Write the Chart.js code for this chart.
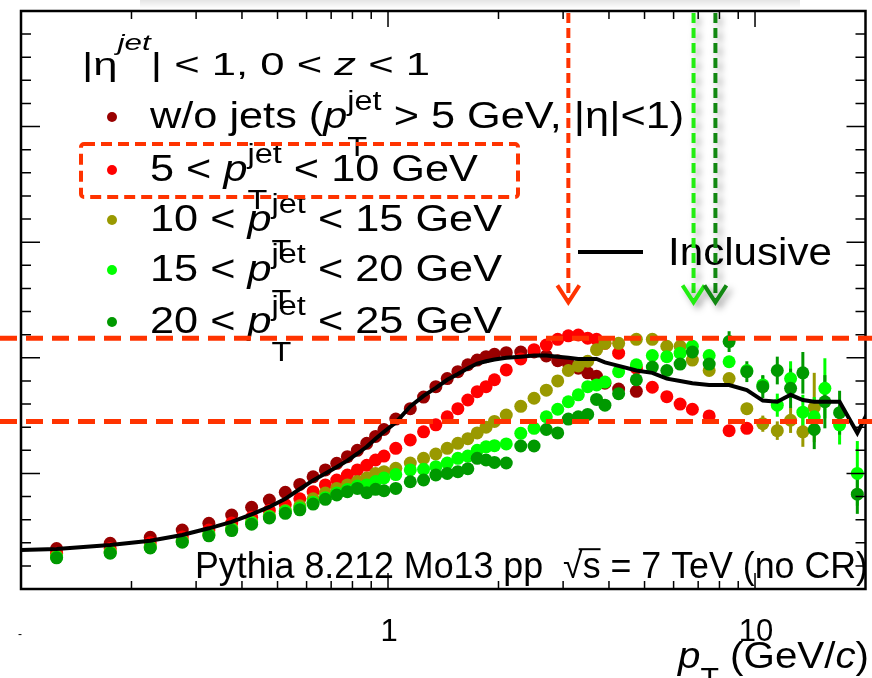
<!DOCTYPE html>
<html>
<head>
<meta charset="utf-8">
<script src="https://cdn.jsdelivr.net/npm/chart.js@4.4.0/dist/chart.umd.min.js"></script>
<style>
  html, body { margin: 0; padding: 0; background: #fff; }
  #wrap { width: 872px; height: 678px; }
</style>
</head>
<body>
<div id="wrap"><canvas id="c" width="872" height="678"></canvas></div>
<script>
// pT bin centres (GeV/c)
const ptBins = [
  0.125, 0.175, 0.225, 0.275, 0.325, 0.375, 0.425, 0.475, 0.525, 0.575,
  0.625, 0.675, 0.725, 0.775, 0.825, 0.875, 0.925, 0.975,
  1.05, 1.15, 1.25, 1.35, 1.45, 1.55, 1.65, 1.75, 1.85, 1.95,
  2.1, 2.3, 2.5, 2.7, 2.9, 3.1, 3.3, 3.5, 3.7, 3.9,
  4.25, 4.75, 5.25, 5.75, 6.25, 6.75,
  7.5, 8.5, 9.5,
  10.5, 11.5, 12.5, 13.5, 14.5, 15.5,
  17, 19
];

// w/o jets (pT jet > 5 GeV, |eta|<1)
const noJet = [
  0.35, 0.395, 0.447, 0.51, 0.568, 0.64, 0.707, 0.77, 0.836, 0.905,
  0.97, 1.03, 1.087, 1.145, 1.20, 1.26, 1.32, 1.38,
  1.47, 1.56, 1.66, 1.75, 1.82, 1.88, 1.94, 1.98, 2.01, 2.03,
  2.044, 2.05, 2.05, 2.016, 1.975, 1.95, 1.91, 1.87, 1.84, 1.78,
  1.73, 1.71
];

// 5 < pT jet < 10 GeV
const jet5to10 = [
  0.31, 0.35, 0.40, 0.45, 0.51, 0.57, 0.62, 0.68, 0.73, 0.78,
  0.842, 0.90, 0.943, 0.986, 1.03, 1.07, 1.116, 1.15,
  1.217, 1.29, 1.36, 1.42, 1.49, 1.56, 1.635, 1.707, 1.75, 1.81,
  1.895, 1.99, 2.07, 2.11, 2.16, 2.19, 2.197, 2.17, 2.16, 2.125,
  2.04, 1.91, 1.745, 1.664, 1.60, 1.555,
  1.497, 1.37, 1.39
];

// 10 < pT jet < 15 GeV
const jet10to15 = [
  0.285, 0.325, 0.37, 0.42, 0.475, 0.525, 0.58, 0.63, 0.68, 0.72,
  0.78, 0.83, 0.87, 0.90, 0.93, 0.96, 1.0, 1.015,
  1.044, 1.09, 1.13, 1.168, 1.217, 1.26, 1.30, 1.35, 1.40, 1.45,
  1.505, 1.58, 1.65, 1.72, 1.80, 1.89, 1.93, 1.97, 2.07, 2.125,
  2.125, 2.16, 2.16, 2.10, 2.10, 1.98,
  1.89, 1.82, 1.56,
  1.43, 1.37, 1.46, 1.36, 1.57
];

// 15 < pT jet < 20 GeV
const jet15to20 = [
  0.275, 0.315, 0.36, 0.41, 0.47, 0.515, 0.57, 0.625, 0.67, 0.70,
  0.75, 0.79, 0.83, 0.86, 0.89, 0.90, 0.93, 0.96,
  0.99, 1.03, 1.035, 1.058, 1.09, 1.13, 1.15, 1.20, 1.23, 1.24,
  1.255, 1.347, 1.39, 1.49, 1.555, 1.62, 1.68, 1.75, 1.765, 1.79,
  1.88, 1.94, 2.02, 2.01, 2.04, 2.10,
  2.02, 1.966, 1.89,
  1.765, 1.59, 1.82, 1.53, 1.49, 1.736,
  1.42, 1.0
];

// 20 < pT jet < 25 GeV
const jet20to25 = [
  0.27, 0.31, 0.355, 0.405, 0.46, 0.505, 0.56, 0.615, 0.655, 0.685,
  0.735, 0.776, 0.813, 0.842, 0.87, 0.833, 0.862, 0.85,
  0.87, 0.928, 0.943, 0.986, 1.0, 1.015, 1.04, 1.13, 1.116, 1.095,
  1.09, 1.237, 1.237, 1.38, 1.35, 1.47, 1.49, 1.51, 1.64, 1.59,
  1.69, 1.81, 1.92, 1.89, 1.946, 2.05,
  1.946, 2.14, 1.88,
  1.75, 1.89, 1.736, 1.87, 1.38, 1.62,
  1.525, 0.82
];

// vertical error bars (same index as the values)
const errJet5to10 = { 45: 0.03, 46: 0.04 };
const errJet10to15 = { 46: 0.05, 47: 0.07, 48: 0.08, 49: 0.11, 50: 0.13, 51: 0.3 };
const errJet15to20 = { 44: 0.03, 45: 0.05, 46: 0.05, 47: 0.08, 48: 0.1, 49: 0.15, 50: 0.15, 51: 0.17, 52: 0.26, 53: 0.17, 54: 0.28 };
const errJet20to25 = { 44: 0.05, 45: 0.09, 46: 0.09, 47: 0.1, 48: 0.12, 49: 0.17, 50: 0.18, 51: 0.17, 52: 0.23, 53: 0.19, 54: 0.17 };

// inclusive curve
const inclPt = [0.1].concat(ptBins, [21]);
const inclVal = [
  0.337,
  0.345, 0.38, 0.418, 0.467, 0.525, 0.58, 0.645, 0.71, 0.78, 0.865,
  0.94, 1.0, 1.055, 1.11, 1.17, 1.23, 1.30, 1.36,
  1.44, 1.58, 1.67, 1.74, 1.81, 1.86, 1.91, 1.95, 1.97, 1.985,
  2.0, 2.01, 2.02, 2.02, 2.01, 2.0, 1.99, 1.99, 1.99, 1.96,
  1.93, 1.89, 1.87, 1.82, 1.80, 1.78,
  1.765, 1.765, 1.72,
  1.63, 1.62, 1.68, 1.635, 1.62, 1.62,
  1.62, 1.35,
  1.62
];

// annotations drawn on top
const refLevels = [2.17, 1.45];
const arrowPt = [3.1, 6.8, 7.8];
const arrowTip = 2.48;

const xTickLabels = [['1', 1], ['10', 10]];

const FONT = '"Liberation Sans", Arial, Helvetica, sans-serif';
const RED_DASH = '#ff3300';
const colors = {
  noJet: '#990000',
  jet5to10: '#ff0000',
  jet10to15: '#999900',
  jet15to20: '#00ff00',
  jet20to25: '#009900'
};

const legendRows = [
  { color: colors.noJet, segs: [{ t: 'w/o jets (' }, { t: 'p', italic: true }, { sub: 'T', sup: 'jet' }, { t: ' > 5 GeV, |η|<1)' }] },
  { color: colors.jet5to10, segs: [{ t: '5 < ' }, { t: 'p', italic: true }, { sub: 'T', sup: 'jet' }, { t: ' < 10 GeV' }] },
  { color: colors.jet10to15, segs: [{ t: '10 < ' }, { t: 'p', italic: true }, { sub: 'T', sup: 'jet' }, { t: ' < 15 GeV' }] },
  { color: colors.jet15to20, segs: [{ t: '15 < ' }, { t: 'p', italic: true }, { sub: 'T', sup: 'jet' }, { t: ' < 20 GeV' }] },
  { color: colors.jet20to25, segs: [{ t: '20 < ' }, { t: 'p', italic: true }, { sub: 'T', sup: 'jet' }, { t: ' < 25 GeV' }] }
];
const legendRowY = [117, 170, 220, 270, 322];

function pts(vals) {
  return vals.map((v, i) => ({ x: ptBins[i], y: v })).filter(p => p.y !== null);
}

function setFont(ctx, size, italic) {
  ctx.font = (italic ? 'italic ' : '') + size + 'px ' + FONT;
}

// measure a run of text pieces with sub/superscripts
function layoutRich(ctx, segs, size) {
  let w = 0;
  const parts = segs.map(s => {
    if (s.sub !== undefined || s.sup !== undefined) {
      const ss = size * (s.scale || 0.75);
      setFont(ctx, ss, s.italic);
      const w1 = s.sub ? ctx.measureText(s.sub).width : 0;
      const w2 = s.sup ? ctx.measureText(s.sup).width : 0;
      const p = { s, x: w, w: Math.max(w1, w2), ss };
      w += p.w;
      return p;
    }
    setFont(ctx, size, s.italic);
    const p = { s, x: w, w: ctx.measureText(s.t).width };
    w += p.w;
    return p;
  });
  return { parts, w };
}

function drawRich(ctx, segs, x0, base, size, sx, color) {
  const { parts } = layoutRich(ctx, segs, size);
  ctx.save();
  ctx.translate(x0, base);
  ctx.scale(sx, 1);
  ctx.fillStyle = color || '#000';
  ctx.strokeStyle = color || '#000';
  ctx.textAlign = 'left';
  ctx.textBaseline = 'alphabetic';
  parts.forEach(p => {
    const s = p.s;
    if (p.ss) {
      setFont(ctx, p.ss, s.italic);
      if (s.sup) ctx.fillText(s.sup, p.x, -size * (s.up || 0.5));
      if (s.sub) ctx.fillText(s.sub, p.x, size * (s.down || 0.75));
    } else {
      setFont(ctx, size, s.italic);
      ctx.fillText(s.t, p.x, 0);
      if (s.over) {
        ctx.lineWidth = 2;
        ctx.beginPath();
        ctx.moveTo(p.x - 4, -size * 0.8);
        ctx.lineTo(p.x + p.w, -size * 0.8);
        ctx.stroke();
      }
    }
  });
  ctx.restore();
}

function fitScale(ctx, segs, size, x0, x1) {
  return (x1 - x0) / layoutRich(ctx, segs, size).w;
}

const errorBars = {
  id: 'errorBars',
  beforeDatasetsDraw(chart) {
    const { ctx, scales: { x, y } } = chart;
    const sets = [
      [jet5to10, errJet5to10, colors.jet5to10],
      [jet10to15, errJet10to15, colors.jet10to15],
      [jet15to20, errJet15to20, colors.jet15to20],
      [jet20to25, errJet20to25, colors.jet20to25]
    ];
    ctx.save();
    ctx.lineWidth = 3;
    sets.forEach(([vals, errs, col]) => {
      ctx.strokeStyle = col;
      Object.keys(errs).forEach(k => {
        const i = +k;
        const px = x.getPixelForValue(ptBins[i]);
        ctx.beginPath();
        ctx.moveTo(px, y.getPixelForValue(vals[i] - errs[k]));
        ctx.lineTo(px, y.getPixelForValue(vals[i] + errs[k]));
        ctx.stroke();
      });
    });
    ctx.restore();
  }
};

const decorations = {
  id: 'decorations',
  afterDraw(chart) {
    const { ctx, chartArea: a, scales: { x, y } } = chart;
    ctx.save();

    // faint shadow band at the top
    const g = ctx.createLinearGradient(0, 0, 0, 9);
    g.addColorStop(0, 'rgba(0,0,0,0.10)');
    g.addColorStop(1, 'rgba(0,0,0,0)');
    ctx.fillStyle = g;
    ctx.fillRect(140, 0, 660, 9);

    // frame + ticks (ROOT style, ticks inward on all sides)
    ctx.strokeStyle = '#000';
    ctx.lineWidth = 1.5;
    for (let d = 0.1; d < 20; d *= 10) {
      for (let m = 1; m <= 9; m++) {
        const v = d * m;
        if (v <= 0.1 || v >= 20) continue;
        const px = x.getPixelForValue(v);
        const len = m === 1 ? 16 : 8;
        ctx.beginPath();
        ctx.moveTo(px, a.bottom); ctx.lineTo(px, a.bottom - len);
        ctx.moveTo(px, a.top); ctx.lineTo(px, a.top + len);
        ctx.stroke();
      }
    }
    for (let k = 1; k < 25; k++) {
      const py = y.getPixelForValue(k * 0.2);
      const len = k % 5 === 0 ? 19 : 10;
      ctx.beginPath();
      ctx.moveTo(a.left, py); ctx.lineTo(a.left + len, py);
      ctx.moveTo(a.right, py); ctx.lineTo(a.right - len, py);
      ctx.stroke();
    }
    ctx.lineWidth = 2.5;
    ctx.strokeRect(a.left, a.top, a.right - a.left, a.bottom - a.top);

    // tick labels
    ctx.fillStyle = '#000';
    setFont(ctx, 31, false);
    ctx.textAlign = 'center';
    ctx.textBaseline = 'alphabetic';
    xTickLabels.forEach(([t, v]) => ctx.fillText(t, x.getPixelForValue(v) + 1, 641));
    setFont(ctx, 12, false);
    ctx.fillText('-', 20, 638);

    // axis title
    const titleSegs = [{ t: 'p', italic: true }, { sub: 'T', down: 0.5 }, { t: ' (GeV/' }, { t: 'c', italic: true }, { t: ')' }];
    drawRich(ctx, titleSegs, 678, 668, 37, fitScale(ctx, titleSegs, 37, 678, 869));

    // generator label
    const genSegs = [{ t: 'Pythia 8.212 Mo13 pp  √' }, { t: 's', over: true }, { t: ' = 7 TeV (no CR)' }];
    drawRich(ctx, genSegs, 195, 578, 36, fitScale(ctx, genSegs, 36, 195, 868));

    // header
    const headSegs = [{ t: '|η' }, { sup: 'jet', italic: true, up: 0.8, scale: 0.72 }, { t: '| < 1, 0 < ' }, { t: 'z', italic: true }, { t: ' < 1' }];
    drawRich(ctx, headSegs, 82, 75, 31, fitScale(ctx, headSegs, 31, 82, 430));

    // legend rows
    const rowScale = fitScale(ctx, legendRows[1].segs, 37, 150, 478);
    legendRows.forEach((r, i) => {
      ctx.fillStyle = r.color;
      ctx.beginPath();
      ctx.arc(112, legendRowY[i], 5, 0, Math.PI * 2);
      ctx.fill();
      drawRich(ctx, r.segs, 150, legendRowY[i] + 11, 37, rowScale);
    });

    // inclusive entry
    ctx.strokeStyle = '#000';
    ctx.lineWidth = 4;
    ctx.setLineDash([]);
    ctx.beginPath();
    ctx.moveTo(578, 252); ctx.lineTo(643, 252);
    ctx.stroke();
    const incSegs = [{ t: 'Inclusive' }];
    drawRich(ctx, incSegs, 668, 265, 39, fitScale(ctx, incSegs, 39, 668, 832));

    // dashed box around the 5-10 GeV entry
    ctx.strokeStyle = RED_DASH;
    ctx.lineWidth = 4;
    ctx.setLineDash([11, 6]);
    ctx.beginPath();
    ctx.roundRect(81, 144, 437, 53, 3);
    ctx.stroke();

    // horizontal reference lines
    ctx.lineWidth = 5;
    ctx.setLineDash([17, 9]);
    refLevels.forEach(v => {
      const py = y.getPixelForValue(v);
      ctx.beginPath();
      ctx.moveTo(0, py); ctx.lineTo(chart.width, py);
      ctx.stroke();
    });

    // arrows
    const arrowCols = [RED_DASH, '#22ee11', '#118811'];
    const tipY = y.getPixelForValue(arrowTip);
    arrowPt.forEach((v, i) => {
      const px = x.getPixelForValue(v);
      ctx.save();
      if (i > 0) {
        ctx.shadowColor = 'rgba(0,0,0,0.35)';
        ctx.shadowBlur = 7;
        ctx.shadowOffsetX = 4;
        ctx.shadowOffsetY = 4;
      }
      ctx.strokeStyle = arrowCols[i];
      ctx.lineWidth = 4;
      ctx.setLineDash([10, 5]);
      ctx.beginPath();
      ctx.moveTo(px, a.top + 2); ctx.lineTo(px, tipY - 3);
      ctx.stroke();
      ctx.setLineDash([]);
      ctx.beginPath();
      ctx.moveTo(px - 11, tipY - 17); ctx.lineTo(px, tipY); ctx.lineTo(px + 11, tipY - 17);
      ctx.stroke();
      ctx.restore();
    });

    ctx.restore();
  }
};

const dotStyle = col => ({
  backgroundColor: col,
  borderColor: col,
  borderWidth: 0,
  pointRadius: 6.5,
  pointHoverRadius: 6.5,
  showLine: false
});

new Chart(document.getElementById('c'), {
  type: 'scatter',
  data: {
    datasets: [
      {
        label: 'Inclusive',
        data: inclVal.map((v, i) => ({ x: inclPt[i], y: v })),
        showLine: true,
        borderColor: '#000',
        borderWidth: 4,
        pointRadius: 0,
        tension: 0
      },
      Object.assign({ label: '20-25', data: pts(jet20to25) }, dotStyle(colors.jet20to25)),
      Object.assign({ label: '15-20', data: pts(jet15to20) }, dotStyle(colors.jet15to20)),
      Object.assign({ label: '10-15', data: pts(jet10to15) }, dotStyle(colors.jet10to15)),
      Object.assign({ label: '5-10', data: pts(jet5to10) }, dotStyle(colors.jet5to10)),
      Object.assign({ label: 'w/o jets', data: pts(noJet) }, dotStyle(colors.noJet))
    ]
  },
  options: {
    responsive: false,
    devicePixelRatio: 1,
    animation: false,
    layout: { padding: { left: 21, top: 11, right: 3, bottom: 89 } },
    plugins: { legend: { display: false }, tooltip: { enabled: false } },
    scales: {
      x: { type: 'logarithmic', min: 0.1, max: 20, display: false },
      y: { type: 'linear', min: 0, max: 5, display: false }
    }
  },
  plugins: [errorBars, decorations]
});
</script>
</body>
</html>
